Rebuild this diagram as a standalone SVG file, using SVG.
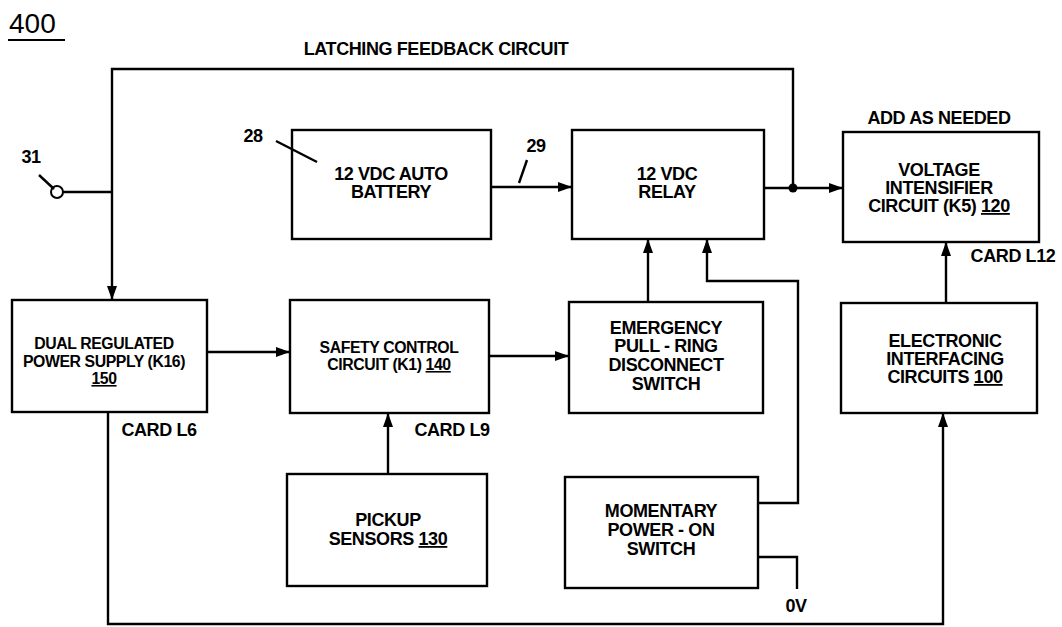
<svg xmlns="http://www.w3.org/2000/svg" width="1062" height="627" viewBox="0 0 1062 627">
<style>
.box{fill:none;stroke:#000;stroke-width:2.4}
.ln{fill:none;stroke:#000;stroke-width:2.4}
.t{font-family:"Liberation Sans",Arial,sans-serif;font-weight:bold;font-size:18px;fill:#000;text-anchor:middle;letter-spacing:-0.4px}
.s{font-size:15.8px}
.u{text-decoration:underline}
</style>
<defs>
<marker id="ah" viewBox="0 0 14 10" refX="14" refY="5" markerWidth="14" markerHeight="10" markerUnits="userSpaceOnUse" orient="auto">
<path d="M0,0 L14,5 L0,10 Z" fill="#000"/>
</marker>
</defs>
<rect width="1062" height="627" fill="#fff"/>
<text x="9" y="33" style="font-family:'Liberation Sans',Arial,sans-serif;font-size:28px;fill:#000">400</text>
<line x1="8" y1="40" x2="65" y2="40" stroke="#000" stroke-width="2"/>
<text class="t" x="436" y="55">LATCHING FEEDBACK CIRCUIT</text>
<text class="t" x="939" y="124">ADD AS NEEDED</text>
<text class="t" x="31" y="163">31</text>
<text class="t" x="253" y="142">28</text>
<text class="t" x="536" y="152">29</text>
<text class="t" x="1013" y="262">CARD L12</text>
<text class="t" x="159" y="436">CARD L6</text>
<text class="t" x="452" y="436">CARD L9</text>
<text class="t" x="796" y="612">0V</text>
<g id="connectors">
<polyline class="ln" points="112,192 112,69 793,69 793,188"/>
<line class="ln" x1="112" y1="192" x2="112" y2="300" marker-end="url(#ah)"/>
<line class="ln" x1="63" y1="192" x2="112" y2="192"/>
<circle cx="57" cy="192" r="6" fill="#fff" stroke="#000" stroke-width="2"/>
<line class="ln" x1="39" y1="175" x2="54" y2="189"/>
<line class="ln" x1="276" y1="141" x2="317" y2="162"/>
<line class="ln" x1="491" y1="187" x2="572" y2="187" marker-end="url(#ah)"/>
<line class="ln" x1="519" y1="183" x2="527" y2="160"/>
<line class="ln" x1="764" y1="188" x2="843" y2="188" marker-end="url(#ah)"/>
<circle cx="793" cy="188" r="4.5" fill="#000"/>
<line class="ln" x1="207" y1="352" x2="290" y2="352" marker-end="url(#ah)"/>
<line class="ln" x1="489" y1="356" x2="569" y2="356" marker-end="url(#ah)"/>
<line class="ln" x1="648" y1="302" x2="648" y2="239" marker-end="url(#ah)"/>
<polyline class="ln" points="758,503 798,503 798,281 707,281 707,239" marker-end="url(#ah)"/>
<polyline class="ln" points="758,557 797,557 797,589"/>
<line class="ln" x1="388" y1="474" x2="388" y2="413" marker-end="url(#ah)"/>
<line class="ln" x1="946" y1="303" x2="946" y2="242" marker-end="url(#ah)"/>
<polyline class="ln" points="108,412 108,624 943,624 943,413" marker-end="url(#ah)"/>
</g>
<g id="battery">
<rect class="box" x="292" y="130" width="199" height="109"/>
<text class="t" x="391" y="180">12 VDC AUTO</text>
<text class="t" x="391" y="198">BATTERY</text>
</g>
<g id="relay">
<rect class="box" x="572" y="130" width="192" height="109"/>
<text class="t" x="667" y="180">12 VDC</text>
<text class="t" x="667" y="198">RELAY</text>
</g>
<g id="intensifier">
<rect class="box" x="843" y="132" width="196" height="110"/>
<text class="t" x="939" y="176">VOLTAGE</text>
<text class="t" x="939" y="194">INTENSIFIER</text>
<text class="t" x="939" y="212">CIRCUIT (K5) <tspan class="u">120</tspan></text>
</g>
<g id="power">
<rect class="box" x="12" y="300" width="195" height="112"/>
<text class="t s" x="104" y="349">DUAL REGULATED</text>
<text class="t s" x="104" y="367">POWER SUPPLY (K16)</text>
<text class="t s u" x="104" y="384">150</text>
</g>
<g id="safety">
<rect class="box" x="290" y="300" width="199" height="113"/>
<text class="t s" x="389" y="353">SAFETY CONTROL</text>
<text class="t s" x="389" y="370">CIRCUIT (K1) <tspan class="u">140</tspan></text>
</g>
<g id="emergency">
<rect class="box" x="569" y="302" width="194" height="111"/>
<text class="t" x="666" y="334">EMERGENCY</text>
<text class="t" x="666" y="352">PULL - RING</text>
<text class="t" x="666" y="371">DISCONNECT</text>
<text class="t" x="666" y="390">SWITCH</text>
</g>
<g id="interfacing">
<rect class="box" x="841" y="303" width="196" height="110"/>
<text class="t" x="945" y="347">ELECTRONIC</text>
<text class="t" x="945" y="365">INTERFACING</text>
<text class="t" x="945" y="383">CIRCUITS <tspan class="u">100</tspan></text>
</g>
<g id="pickup">
<rect class="box" x="287" y="474" width="200" height="112"/>
<text class="t" x="388" y="526">PICKUP</text>
<text class="t" x="388" y="545">SENSORS <tspan class="u">130</tspan></text>
</g>
<g id="momentary">
<rect class="box" x="565" y="477" width="193" height="111"/>
<text class="t" x="661" y="517">MOMENTARY</text>
<text class="t" x="661" y="536">POWER - ON</text>
<text class="t" x="661" y="555">SWITCH</text>
</g>
</svg>
